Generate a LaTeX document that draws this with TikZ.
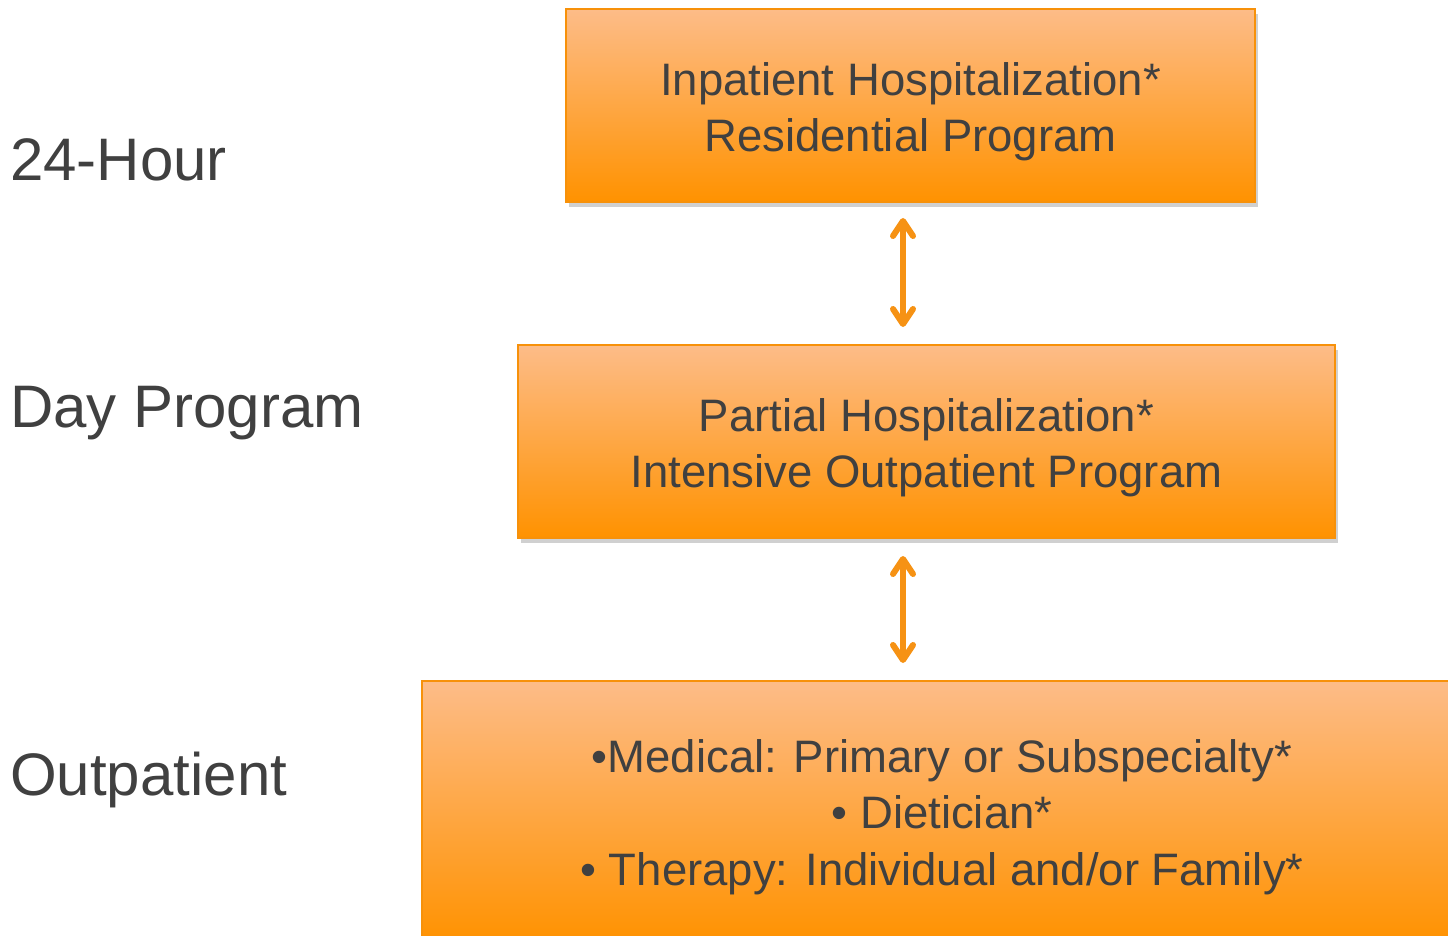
\documentclass[tikz,border=0pt]{standalone}
\usepackage{fontspec}
\setmainfont{Liberation Sans}
\usetikzlibrary{arrows.meta,shadows}
\definecolor{boxtop}{RGB}{253,188,136}
\definecolor{boxbottom}{RGB}{255,146,0}
\definecolor{boxedge}{RGB}{247,145,10}
\definecolor{linkorange}{RGB}{246,146,20}
\definecolor{textgray}{RGB}{64,64,64}
\tikzset{
  stagebox/.style={draw=boxedge, line width=2pt, top color=boxtop, bottom color=boxbottom,
    drop shadow={shadow xshift=3pt, shadow yshift=-5pt, opacity=0.3, fill=black!60},
    inner sep=0pt},
  stagetext/.style={text=textgray, align=center, inner sep=0pt,
    font=\fontsize{45.5}{56.5}\selectfont},
  levellabel/.style={anchor=base west, inner sep=0pt, text=textgray,
    font=\fontsize{60}{70}\selectfont},
  link/.style={draw=linkorange, line width=6pt, line cap=round,
    {Straight Barb[length=15pt,width=20pt,round]}-{Straight Barb[length=15pt,width=20pt,round]}}
}
\begin{document}
\begin{tikzpicture}[x=1pt,y=-1pt]
		%%%%% START %%%%%
		\useasboundingbox (0,0) rectangle (1448,936);
		\clip (0,0) rectangle (1448,936);
		\fill[white] (0,0) rectangle (1448,936);
		
		% level names
		\node[levellabel] (hour) at (10,181) {24-Hour};
		\node[levellabel] (day) at (10,427) {Day Program};
		\node[levellabel] (outpat) at (10,795) {Outpatient};
		
		% stages
		\node[stagebox, minimum width=689, minimum height=193] (inpatient) at (910.5,105.5) {};
		\node[stagetext] (inpatientText) at ([yshift=-6pt]inpatient.center)
			{Inpatient Hospitalization*\\Residential Program};
		\node[stagebox, minimum width=817, minimum height=193] (partial) at (926.5,441.5) {};
		\node[stagetext] (partialText) at ([yshift=-6pt]partial.center)
			{Partial Hospitalization*\\Intensive Outpatient Program};
		\node[stagebox, minimum width=1040, minimum height=262] (clinic) at (942,812) {};
		\node[stagetext] (clinicText) at ([yshift=-5pt]clinic.center)
			{\textbullet Medical: Primary or Subspecialty*\\
			 \textbullet{} Dietician*\\
			 \textbullet{} Therapy: Individual and/or Family*};
		
		% links between stages
		\coordinate (axis) at (903,0);
		\draw[link, shorten <=15pt, shorten >=17pt] (inpatient.south -| axis) -- (partial.north -| axis);
		\draw[link, shorten <=17pt, shorten >=17pt] (partial.south -| axis) -- (clinic.north -| axis);
		
		%%%%% END %%%%%
\end{tikzpicture}
\end{document}
